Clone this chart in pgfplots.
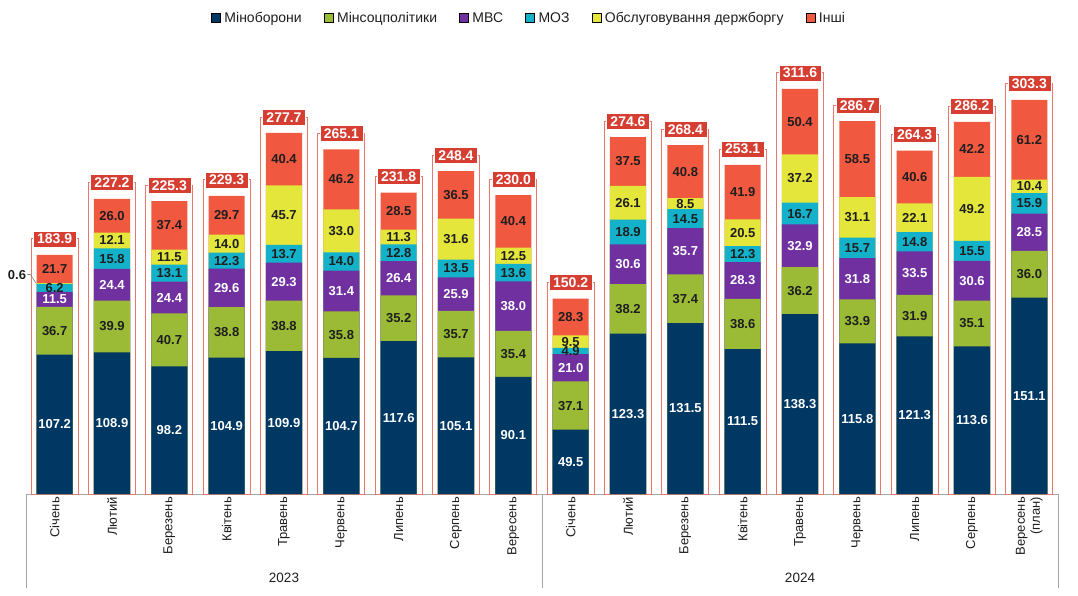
\documentclass[border=0pt]{standalone}
\usepackage{pgfplots}
\usepackage{pgfplotstable}
\pgfplotsset{compat=1.18}
\usepackage{fontspec}
\setmainfont{Liberation Sans}
\definecolor{cnavy}{RGB}{0,56,100}
\definecolor{cgreen}{RGB}{155,187,54}
\definecolor{cpurple}{RGB}{112,48,160}
\definecolor{ccyan}{RGB}{20,178,202}
\definecolor{cyellow}{RGB}{228,230,60}
\definecolor{cred}{RGB}{240,88,64}
\definecolor{ctot}{RGB}{214,62,50}
\definecolor{cout}{RGB}{232,120,110}
\definecolor{ctext}{RGB}{30,30,30}

\pgfplotstableread{
x a b c d e f total
0 107.2 36.7 11.5 6.2 0.6 21.7 183.9
1 108.9 39.9 24.4 15.8 12.1 26.0 227.2
2 98.2 40.7 24.4 13.1 11.5 37.4 225.3
3 104.9 38.8 29.6 12.3 14.0 29.7 229.3
4 109.9 38.8 29.3 13.7 45.7 40.4 277.7
5 104.7 35.8 31.4 14.0 33.0 46.2 265.1
6 117.6 35.2 26.4 12.8 11.3 28.5 231.8
7 105.1 35.7 25.9 13.5 31.6 36.5 248.4
8 90.1 35.4 38.0 13.6 12.5 40.4 230.0
9 49.5 37.1 21.0 4.9 9.5 28.3 150.2
10 123.3 38.2 30.6 18.9 26.1 37.5 274.6
11 131.5 37.4 35.7 14.5 8.5 40.8 268.4
12 111.5 38.6 28.3 12.3 20.5 41.9 253.1
13 138.3 36.2 32.9 16.7 37.2 50.4 311.6
14 115.8 33.9 31.8 15.7 31.1 58.5 286.7
15 121.3 31.9 33.5 14.8 22.1 40.6 264.3
16 113.6 35.1 30.6 15.5 49.2 42.2 286.2
17 151.1 36.0 28.5 15.9 10.4 61.2 303.3
}\data

\newcommand{\lblfont}{\fontsize{13}{14}\selectfont\bfseries}
\pgfplotsset{
  seg/.style={ybar, bar width=0.63, bar shift=0pt, draw=none, fill=#1, forget plot},
  lbl/.style={draw=none, mark=none, forget plot, nodes near coords, point meta=explicit symbolic,
    every node near coord/.append style={anchor=center, font=\lblfont, text=#1, inner sep=0pt}},
}

\begin{document}
\begin{tikzpicture}
\useasboundingbox (0,0) rectangle (1078pt,595pt);
\begin{axis}[
  at={(26pt,101pt)}, anchor=south west,
  scale only axis, width=1032pt, height=442pt,
  xmin=-0.5, xmax=17.5, ymin=0, ymax=340,
  axis y line=none, axis x line*=bottom,
  x axis line style={-, draw=gray!70, line width=0.8pt},
  ytick=\empty,
  xtick={0,...,17},
  xticklabels={Січень,Лютий,Березень,Квітень,Травень,Червень,Липень,Серпень,Вересень,
               Січень,Лютий,Березень,Квітень,Травень,Червень,Липень,Серпень,{Вересень\\(план)}},
  major tick length=0pt,
  xticklabel style={rotate=90, anchor=east, align=right, font=\fontsize{13}{15}\selectfont, text=ctext, inner sep=3pt},
  clip=false,
  legend columns=6,
  legend style={at={(axis description cs:0.5,1)}, anchor=center, yshift=34pt, xshift=-13pt,
    draw=none, fill=none, font=\fontsize{14}{16}\selectfont, text=ctext,
    /tikz/every even column/.append style={column sep=20pt},
    /tikz/every odd column/.append style={column sep=2pt}},
  legend image code/.code={\fill[#1] (0pt,-4.5pt) rectangle (9pt,4.5pt);},
]
% legend
\addlegendimage{fill=cnavy}\addlegendentry{Міноборони}
\addlegendimage{fill=cgreen}\addlegendentry{Мінсоцполітики}
\addlegendimage{fill=cpurple}\addlegendentry{МВС}
\addlegendimage{fill=ccyan}\addlegendentry{МОЗ}
\addlegendimage{fill=cyellow}\addlegendentry{Обслуговування держборгу}
\addlegendimage{fill=cred}\addlegendentry{Інші}

% outline frames
\addplot[ybar, bar width=0.82, bar shift=0pt, fill=white, draw=cout, line width=0.9pt, forget plot]
  table[x=x, y expr=\thisrow{total}+12.3] {\data};

% stacked segments (cumulative, drawn top first)
\addplot[seg=cred] table[x=x, y expr=\thisrow{a}+\thisrow{b}+\thisrow{c}+\thisrow{d}+\thisrow{e}+\thisrow{f}] {\data};
\addplot[seg=cyellow] table[x=x, y expr=\thisrow{a}+\thisrow{b}+\thisrow{c}+\thisrow{d}+\thisrow{e}] {\data};
\addplot[seg=ccyan] table[x=x, y expr=\thisrow{a}+\thisrow{b}+\thisrow{c}+\thisrow{d}] {\data};
\addplot[seg=cpurple] table[x=x, y expr=\thisrow{a}+\thisrow{b}+\thisrow{c}] {\data};
\addplot[seg=cgreen] table[x=x, y expr=\thisrow{a}+\thisrow{b}] {\data};
\addplot[seg=cnavy] table[x=x, y=a] {\data};

% segment labels
\addplot[lbl=white] table[x=x, y expr=\thisrow{a}/2, meta=a] {\data};
\addplot[lbl=ctext] table[x=x, y expr=\thisrow{a}+\thisrow{b}/2, meta=b] {\data};
\addplot[lbl=white] table[x=x, y expr=\thisrow{a}+\thisrow{b}+\thisrow{c}/2, meta=c] {\data};
\addplot[lbl=ctext] table[x=x, y expr=\thisrow{a}+\thisrow{b}+\thisrow{c}+\thisrow{d}/2, meta=d] {\data};
\addplot[lbl=ctext, skip coords between index={0}{1}] table[x=x, y expr=\thisrow{a}+\thisrow{b}+\thisrow{c}+\thisrow{d}+\thisrow{e}/2, meta=e] {\data};
\addplot[lbl=ctext] table[x=x, y expr=\thisrow{a}+\thisrow{b}+\thisrow{c}+\thisrow{d}+\thisrow{e}+\thisrow{f}/2, meta=f] {\data};

% totals
\addplot[draw=none, mark=none, forget plot, nodes near coords, point meta=explicit symbolic,
  every node near coord/.append style={anchor=center, font=\fontsize{14}{15}\selectfont\bfseries,
    text=white, fill=ctot, draw=white, line width=0.6pt, inner xsep=4pt, inner ysep=2.5pt,
    text height=10.5pt, text depth=0.5pt}]
  table[x=x, y expr=\thisrow{total}+12.3, meta=total] {\data};

% small label for 0.6
\draw[gray, line width=0.6pt] (axis cs:-0.32,161.9) -- ([xshift=-6pt,yshift=9pt]axis cs:-0.32,161.9) -- ([xshift=-9pt,yshift=9pt]axis cs:-0.32,161.9)
  node[anchor=east, inner sep=1pt, font=\lblfont, text=ctext] {0.6};

% group brackets and year labels
\draw[gray!70, line width=0.8pt] (axis cs:-0.5,0) -- ([yshift=-94pt]axis cs:-0.5,0);
\draw[gray!70, line width=0.8pt] (axis cs:8.5,0) -- ([yshift=-94pt]axis cs:8.5,0);
\draw[gray!70, line width=0.8pt] (axis cs:17.5,0) -- ([yshift=-94pt]axis cs:17.5,0);
\node[font=\fontsize{13.5}{15}\selectfont, text=ctext] at ([yshift=-84pt]axis cs:4,0) {2023};
\node[font=\fontsize{13.5}{15}\selectfont, text=ctext] at ([yshift=-84pt]axis cs:13,0) {2024};
\end{axis}
\end{tikzpicture}
\end{document}
